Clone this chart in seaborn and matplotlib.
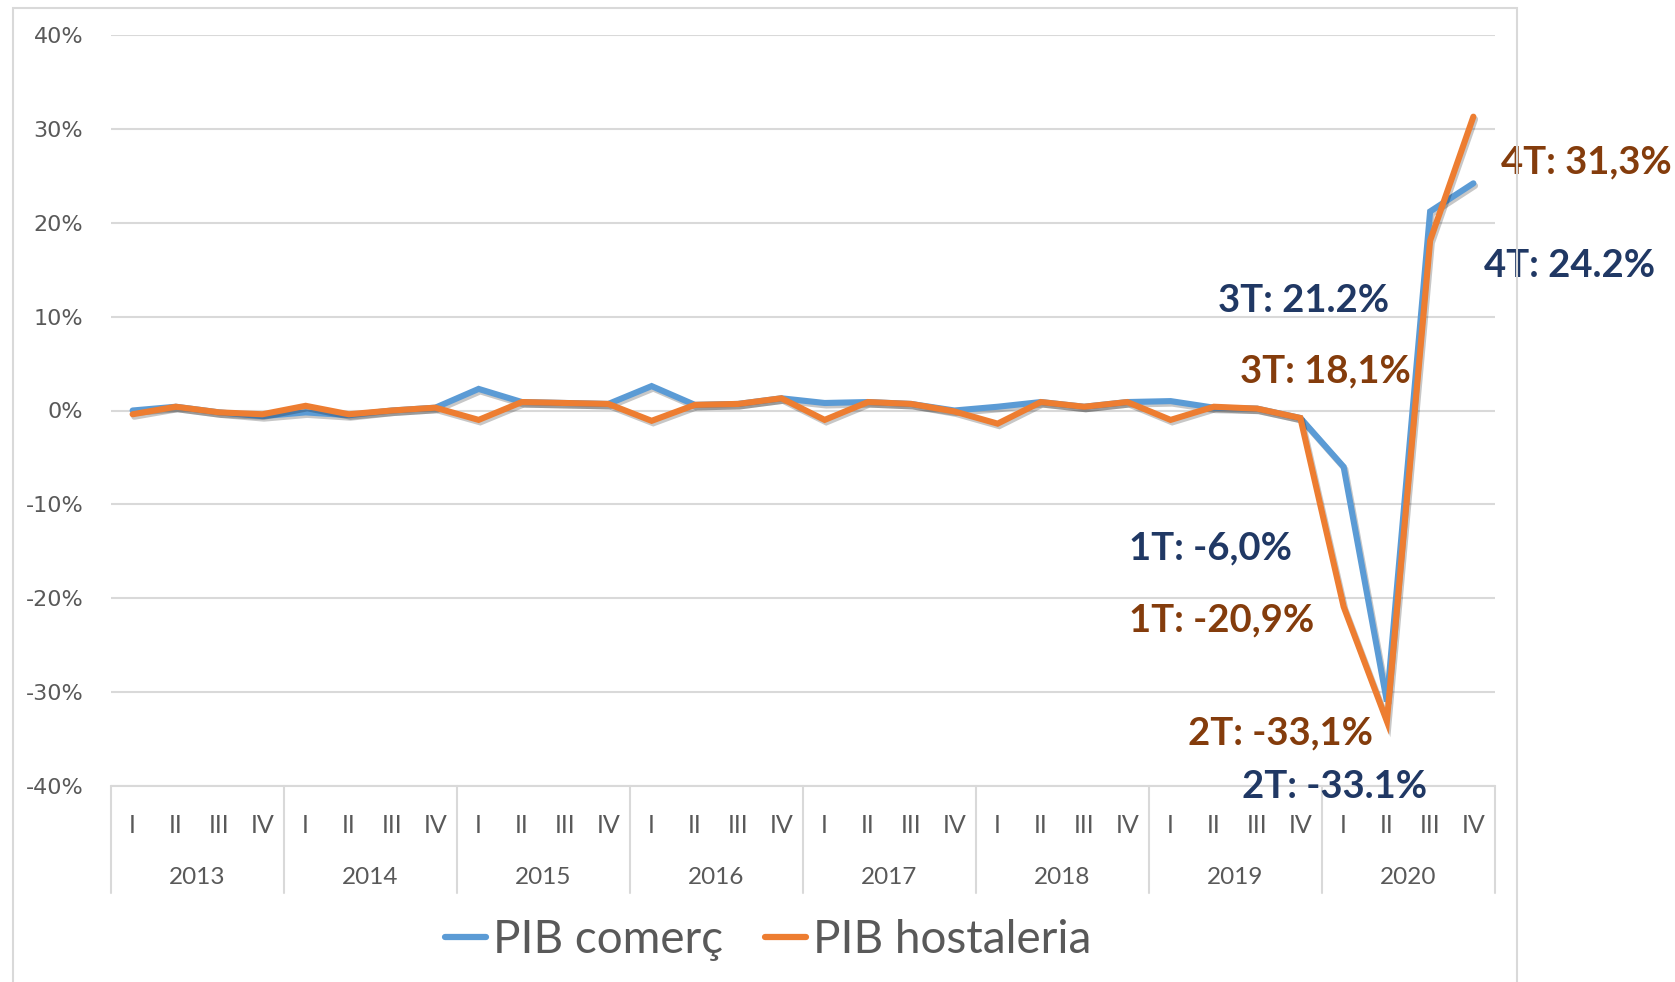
import matplotlib
matplotlib.use("Agg")
import matplotlib.pyplot as plt
import matplotlib.patheffects as pe
from matplotlib.patches import Rectangle
from matplotlib.lines import Line2D
import matplotlib.transforms as mtransforms
import seaborn as sns
import pandas as pd
import numpy as np

# ---------------- data ----------------
years = ["2013", "2014", "2015", "2016", "2017", "2018", "2019", "2020"]
quarters = ["I", "II", "III", "IV"]
pib_comerc = [0.0, 0.4, -0.2, -0.6, -0.2, -0.5, 0.0, 0.3,
              2.3, 0.9, 0.8, 0.7, 2.6, 0.6, 0.7, 1.3,
              0.8, 0.9, 0.7, 0.0, 0.4, 0.9, 0.4, 0.9,
              1.0, 0.3, 0.2, -0.8, -6.0, -31.0, 21.2, 24.2]
pib_hostaleria = [-0.4, 0.4, -0.2, -0.4, 0.5, -0.4, 0.0, 0.3,
                  -1.0, 0.9, 0.8, 0.7, -1.1, 0.6, 0.7, 1.3,
                  -1.0, 0.9, 0.7, -0.1, -1.4, 0.9, 0.4, 0.9,
                  -1.0, 0.4, 0.2, -0.8, -20.9, -33.1, 18.1, 31.3]
series_names = ["PIB comerç", "PIB hostaleria"]
annot_texts = ["3T: 21.2%", "3T: 18,1%", "4T: 31,3%", "4T: 24.2%",
               "1T: -6,0%", "1T: -20,9%", "2T: -33,1%", "2T: -33.1%"]
annot_series = [0, 1, 1, 0, 0, 1, 1, 0]
annot_pos = [(25.1, 11.7), (25.6, 4.2), (31.64, 26.4), (31.24, 15.4),
             (23.04, -14.7), (23.04, -22.4), (24.4, -34.4), (25.65, -40.1)]

colors = ["#5B9BD5", "#ED7D31"]
text_colors = ["#203864", "#843C0C"]

n = len(pib_comerc)
idx = np.arange(n)
df = pd.DataFrame({
    "x": np.concatenate([idx, idx]),
    "value": pib_comerc + pib_hostaleria,
    "series": [series_names[0]] * n + [series_names[1]] * n,
})

# ---------------- figure ----------------
sns.set_theme(style="white")
plt.rcParams["font.family"] = ["DejaVu Sans"]

W, H = 1675, 982
fig = plt.figure(figsize=(W / 100, H / 100), dpi=100)
ax = fig.add_axes([111 / W, (H - 786) / H, (1495 - 111) / W, (786 - 35) / H])

# outer chart frame
fig.patches.append(Rectangle((13 / W, -0.01), (1517 - 13) / W, (974 / H) + 0.01,
                             transform=fig.transFigure, fill=False,
                             edgecolor="#D9D9D9", linewidth=1.5))

shadow = [pe.SimpleLineShadow(offset=(1.2, -1.8), shadow_color="black", alpha=0.22),
          pe.Normal()]
sns.lineplot(data=df, x="x", y="value", hue="series", palette=colors,
             linewidth=4.4, ax=ax, legend=False, sort=False)
for ln in ax.get_lines():
    ln.set_path_effects(shadow)
    ln.set_solid_joinstyle("miter")

ax.set_xlim(-0.5, n - 0.5)
ax.set_ylim(-40, 40)
ax.set_yticks(np.arange(-40, 41, 10))
ax.set_yticklabels([f"{v}%" for v in range(-40, 41, 10)], fontsize=16, color="#595959")
ax.yaxis.grid(True, color="#D9D9D9", linewidth=1.5)
ax.set_axisbelow(True)
for s in ax.spines.values():
    s.set_visible(False)
ax.tick_params(axis="y", length=0, pad=20)

# x axis: quarters and years
ax.set_xticks(idx)
ax.set_xticklabels(quarters * len(years), fontsize=18, color="#595959", family="Lato")
ax.tick_params(axis="x", length=0, pad=20)
ax.set_xlabel("")
ax.set_ylabel("")

trans = mtransforms.blended_transform_factory(ax.transData, ax.transAxes)
ax_h_px = 786 - 35
bottom_frac = -(893 - 786) / ax_h_px
ax.add_line(Line2D([-0.5, n - 0.5], [0, 0], transform=trans, color="#D9D9D9",
                   linewidth=1.5, clip_on=False))
for k in range(len(years) + 1):
    xb = k * 4 - 0.5
    ax.add_line(Line2D([xb, xb], [0, bottom_frac], transform=trans, color="#D9D9D9",
                       linewidth=1.5, clip_on=False))
for k, yr in enumerate(years):
    ax.text(k * 4 + 1.5, -(877 - 786) / ax_h_px, yr, transform=trans, ha="center",
            va="center", fontsize=17.5, color="#595959", family="Lato")

# annotations
for t, si, (px, py) in zip(annot_texts, annot_series, annot_pos):
    ax.text(px, py, t, ha="left", va="center", fontsize=27.5, fontweight="bold",
            color=text_colors[si], family="Lato", clip_on=False)

# legend
handles = [Line2D([0], [0], color=c, linewidth=4.5) for c in colors]
fig.legend(handles, series_names, loc="center", bbox_to_anchor=(768 / W, (H - 940) / H),
           ncol=2, frameon=False, handlelength=0.9, handletextpad=0.15,
           columnspacing=0.9, prop={"family": "Lato", "size": 33}, labelcolor="#595959")

fig.savefig("out.png", dpi=100)
